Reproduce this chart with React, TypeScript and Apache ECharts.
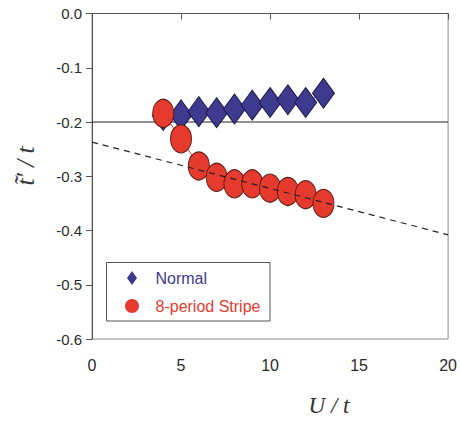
import React, { useEffect, useRef } from "react";
import * as echarts from "echarts";

const uValues = [4, 5, 6, 7, 8, 9, 10, 11, 12, 13];
const normalValues = [-0.188, -0.187, -0.181, -0.183, -0.176, -0.169, -0.164, -0.159, -0.164, -0.147];
const stripeValues = [-0.184, -0.231, -0.281, -0.302, -0.314, -0.314, -0.322, -0.328, -0.334, -0.35];
const refLevel = -0.2;
const fitX = [0, 20];
const fitY = [-0.237, -0.408];
const seriesNames = ["Normal", "8-period Stripe"];

const BLUE = "#3d3a8f";
const RED = "#e63a2e";

export default function App() {
  const ref = useRef<HTMLDivElement>(null);
  useEffect(() => {
    document.body.style.margin = "0";
    const chart = echarts.init(ref.current!, null, { renderer: "svg" });
    const sans = "'Liberation Sans', Arial, sans-serif";
    chart.setOption({
      animation: false,
      backgroundColor: "#ffffff",
      grid: {
        left: 92,
        right: 9,
        top: 13.5,
        bottom: 82,
        show: true,
        borderColor: "#8a8a8a",
        borderWidth: 1,
      },
      xAxis: {
        type: "value",
        min: 0,
        max: 20,
        interval: 5,
        splitLine: { show: false },
        axisLine: { lineStyle: { color: "#555", width: 1 } },
        axisTick: { length: 6, lineStyle: { color: "#555" } },
        axisLabel: { fontSize: 16, color: "#2a2a2a", fontFamily: sans, margin: 18 },
      },
      yAxis: {
        type: "value",
        min: -0.6,
        max: 0,
        interval: 0.1,
        splitLine: { show: false },
        axisLine: { onZero: false, lineStyle: { color: "#555", width: 1 } },
        axisTick: { length: 6, lineStyle: { color: "#555" } },
        axisLabel: {
          fontSize: 15,
          color: "#2a2a2a",
          fontFamily: sans,
          margin: 10,
          formatter: (v: number) => (Math.abs(v) < 1e-9 ? "0.0" : v.toFixed(1)),
        },
      },
      legend: {
        orient: "vertical",
        left: 125,
        top: 270,
        padding: 0,
        itemWidth: 37,
        itemHeight: 14,
        itemGap: 12,
        symbolKeepAspect: true,
        textStyle: { fontSize: 16, fontFamily: sans, lineHeight: 16 },
        data: [
          {
            name: seriesNames[0],
            icon: "path://M5,0L10,7L5,14L0,7Z",
            itemStyle: { color: BLUE, borderWidth: 0 },
            textStyle: { color: BLUE },
          },
          {
            name: seriesNames[1],
            icon: "circle",
            itemStyle: { color: RED, borderWidth: 0 },
            textStyle: { color: RED },
          },
        ],
      },
      graphic: [
        {
          type: "rect",
          shape: { x: 106.5, y: 262.5, width: 163.5, height: 58.5 },
          style: { fill: "none", stroke: "#555", lineWidth: 1 },
          z: 100,
        },
        {
          type: "text",
          x: 329,
          y: 405,
          style: {
            text: "U / t",
            font: "italic 23px 'Liberation Serif', 'Times New Roman', serif",
            fill: "#333",
            align: "center",
            verticalAlign: "middle",
          },
        },
        {
          type: "text",
          x: 25,
          y: 166,
          rotation: Math.PI / 2,
          style: {
            text: "t\u0303\u2032 / t",
            font: "italic 25px 'Liberation Serif', 'Times New Roman', serif",
            fill: "#333",
            align: "center",
            verticalAlign: "middle",
          },
        },
      ],
      series: [
        {
          type: "line",
          data: [
            [0, refLevel],
            [20, refLevel],
          ],
          symbol: "none",
          lineStyle: { color: "#222", width: 1.2 },
          silent: true,
          z: 1,
        },
        {
          name: seriesNames[0],
          type: "line",
          data: uValues.map((u, i) => [u, normalValues[i]]),
          symbol: "diamond",
          symbolSize: [22, 30],
          showAllSymbol: true,
          itemStyle: { color: BLUE, borderColor: "#1c1b45", borderWidth: 1 },
          lineStyle: { color: BLUE, width: 1 },
          z: 3,
        },
        {
          name: seriesNames[1],
          type: "line",
          data: uValues.map((u, i) => [u, stripeValues[i]]),
          symbol: "circle",
          symbolSize: [21, 28],
          showAllSymbol: true,
          itemStyle: { color: RED, borderColor: "#5a1a12", borderWidth: 1 },
          lineStyle: { color: RED, width: 1 },
          z: 4,
        },
        {
          type: "line",
          data: fitX.map((x, i) => [x, fitY[i]]),
          symbol: "none",
          lineStyle: { color: "#222", width: 1.2, type: [6, 5] },
          silent: true,
          z: 5,
        },
      ],
    });
    return () => chart.dispose();
  }, []);
  return <div ref={ref} style={{ width: 460, height: 421 }} />;
}
